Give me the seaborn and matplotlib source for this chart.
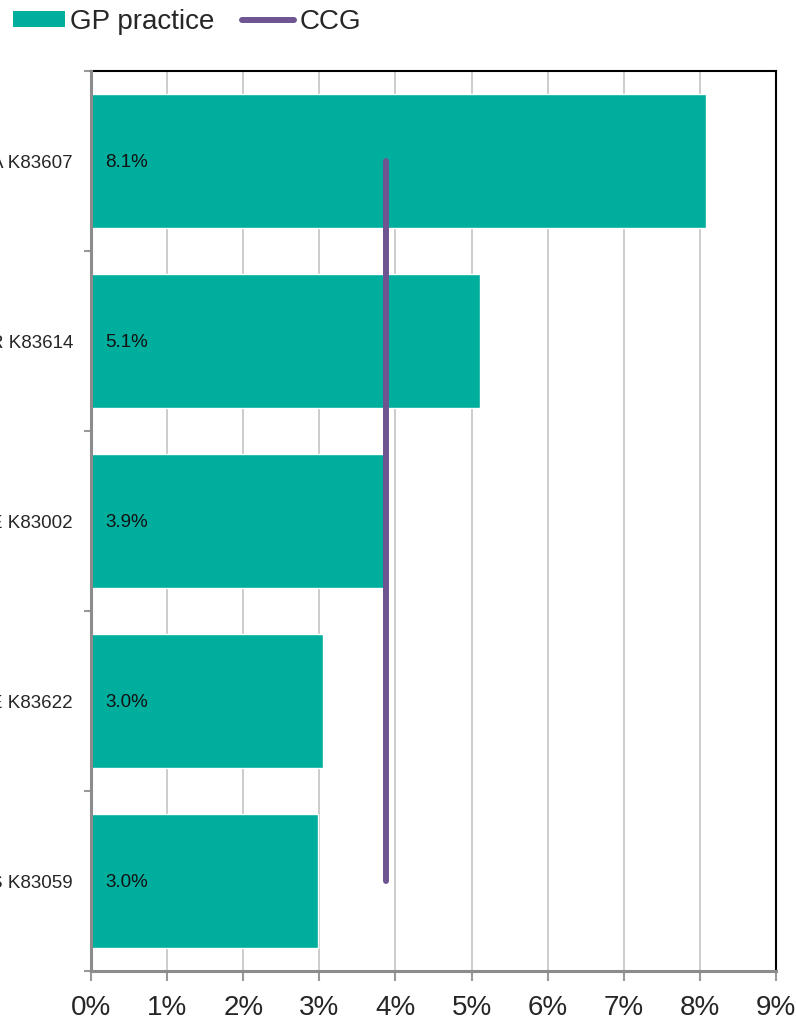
import matplotlib
matplotlib.use("Agg")
import matplotlib.pyplot as plt
from matplotlib.patches import Patch
from matplotlib.lines import Line2D
from matplotlib.ticker import FuncFormatter
import seaborn as sns
import pandas as pd

# Practice-level values (%) and the CCG average
practices = ["A K83607", "R K83614", "E K83002", "E K83622", "S K83059"]
gp_values = [8.08, 5.11, 3.86, 3.05, 2.98]
ccg_value = 3.87
x_ticks = [0, 1, 2, 3, 4, 5, 6, 7, 8, 9]

teal = "#00AE9D"
purple = "#6E5592"

sns.set_theme(style="white")
plt.rcParams["font.family"] = ["Liberation Sans", "DejaVu Sans"]

fig = plt.figure(figsize=(7.96, 10.19), dpi=100)
ax = fig.add_axes([91 / 796, 1 - 971 / 1019, 685 / 796, 900 / 1019])

df = pd.DataFrame({"practice": practices, "value": gp_values})
sns.barplot(data=df, x="value", y="practice", orient="h", color=teal,
            saturation=1, width=0.74, ax=ax, zorder=2)

# CCG reference line spanning the practice bars
ax.plot([ccg_value, ccg_value], [0, len(practices) - 1], color=purple,
        lw=4.3, solid_capstyle="round", zorder=3)

# Value labels inside each bar
for i, v in enumerate(gp_values):
    ax.text(0.19, i + 0.01, f"{v:.1f}%", va="center", ha="left",
            fontsize=13.5, color="#111111", zorder=4)

ax.set_xlim(0, 9)
ax.set_ylim(len(practices) - 0.5, -0.5)
ax.set_xticks(x_ticks)
ax.xaxis.set_major_formatter(FuncFormatter(lambda v, p: f"{v:.0f}%"))
ax.tick_params(axis="x", labelsize=20, length=7, width=1.5, color="#999999",
               pad=10, direction="out", bottom=True)
ax.set_yticks(range(len(practices)))
ax.set_yticklabels(practices)
ax.tick_params(axis="y", which="major", length=0, labelsize=13.5, pad=13)
ax.set_yticks([i - 0.5 for i in range(len(practices) + 1)], minor=True)
ax.tick_params(axis="y", which="minor", length=5, width=1.5, color="#999999",
               left=True)
ax.set_xlabel("")
ax.set_ylabel("")

ax.grid(axis="x", color="#C8C8C8", lw=1.3, zorder=0)
ax.set_axisbelow(True)

for side in ["left", "bottom"]:
    ax.spines[side].set_color("#8C8C8C")
    ax.spines[side].set_linewidth(2.2)
for side in ["top", "right"]:
    ax.spines[side].set_color("#000000")
    ax.spines[side].set_linewidth(1.5)
ax.spines["left"].set_zorder(5)

handles = [Patch(facecolor=teal, edgecolor="none"),
           Line2D([0], [0], color=purple, lw=4.3, solid_capstyle="round")]
fig.legend(handles, ["GP practice", "CCG"], loc="upper left",
           bbox_to_anchor=(9 / 796, 1 - 5 / 1019), ncol=2, frameon=False,
           fontsize=20, handlelength=1.85, handleheight=0.5,
           handletextpad=0.2, columnspacing=1.0, borderpad=0.15,
           borderaxespad=0)

fig.savefig("out.png", dpi=100)
